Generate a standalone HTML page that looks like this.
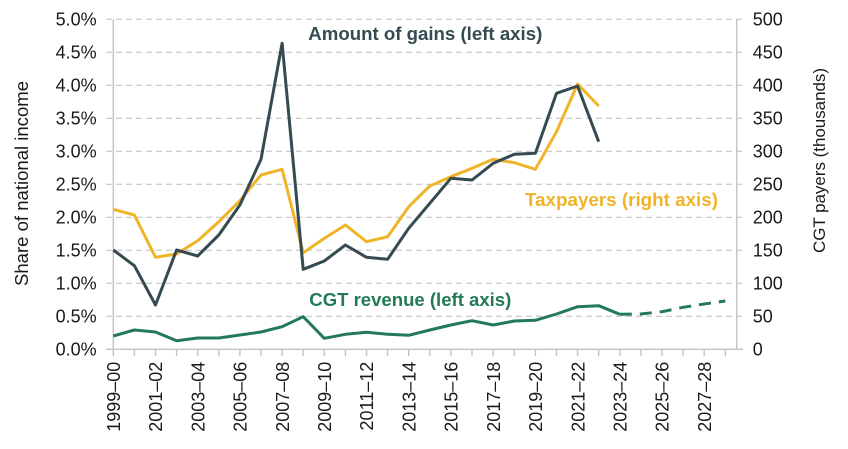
<!DOCTYPE html>
<html>
<head>
<meta charset="utf-8">
<style>
  html, body { margin:0; padding:0; background:#ffffff; }
  body { width:848px; height:449px; overflow:hidden; }
  svg { display:block; }
  text { font-family: "Liberation Sans", Arial, sans-serif; fill:#1a1a1a; }
</style>
</head>
<body>
<svg width="848" height="449" viewBox="0 0 848 449" xmlns="http://www.w3.org/2000/svg">
  <!-- gridlines -->
  <g stroke="#c6c6c6" stroke-width="1.2" stroke-dasharray="6 4" fill="none">
    <line x1="106" y1="19.3" x2="743" y2="19.3"/>
    <line x1="106" y1="52.3" x2="743" y2="52.3"/>
    <line x1="106" y1="85.3" x2="743" y2="85.3"/>
    <line x1="106" y1="118.3" x2="743" y2="118.3"/>
    <line x1="106" y1="151.3" x2="743" y2="151.3"/>
    <line x1="106" y1="184.3" x2="743" y2="184.3"/>
    <line x1="106" y1="217.3" x2="743" y2="217.3"/>
    <line x1="106" y1="250.3" x2="743" y2="250.3"/>
    <line x1="106" y1="283.3" x2="743" y2="283.3"/>
    <line x1="106" y1="316.3" x2="743" y2="316.3"/>
  </g>
  <!-- axes -->
  <g stroke="#c4c4c4" stroke-width="1.4" fill="none">
    <line x1="113.3" y1="19.3" x2="113.3" y2="349.3"/>
    <line x1="736.7" y1="19.3" x2="736.7" y2="349.3"/>
    <line x1="106" y1="349.3" x2="743" y2="349.3"/>
    <line x1="113.3" y1="349.3" x2="113.3" y2="356"/>
    <line x1="134.4" y1="349.3" x2="134.4" y2="356"/>
    <line x1="155.5" y1="349.3" x2="155.5" y2="356"/>
    <line x1="176.6" y1="349.3" x2="176.6" y2="356"/>
    <line x1="197.7" y1="349.3" x2="197.7" y2="356"/>
    <line x1="218.8" y1="349.3" x2="218.8" y2="356"/>
    <line x1="239.9" y1="349.3" x2="239.9" y2="356"/>
    <line x1="261.0" y1="349.3" x2="261.0" y2="356"/>
    <line x1="282.1" y1="349.3" x2="282.1" y2="356"/>
    <line x1="303.2" y1="349.3" x2="303.2" y2="356"/>
    <line x1="324.3" y1="349.3" x2="324.3" y2="356"/>
    <line x1="345.4" y1="349.3" x2="345.4" y2="356"/>
    <line x1="366.5" y1="349.3" x2="366.5" y2="356"/>
    <line x1="387.6" y1="349.3" x2="387.6" y2="356"/>
    <line x1="408.7" y1="349.3" x2="408.7" y2="356"/>
    <line x1="429.8" y1="349.3" x2="429.8" y2="356"/>
    <line x1="450.9" y1="349.3" x2="450.9" y2="356"/>
    <line x1="472.0" y1="349.3" x2="472.0" y2="356"/>
    <line x1="493.2" y1="349.3" x2="493.2" y2="356"/>
    <line x1="514.3" y1="349.3" x2="514.3" y2="356"/>
    <line x1="535.4" y1="349.3" x2="535.4" y2="356"/>
    <line x1="556.5" y1="349.3" x2="556.5" y2="356"/>
    <line x1="577.6" y1="349.3" x2="577.6" y2="356"/>
    <line x1="598.7" y1="349.3" x2="598.7" y2="356"/>
    <line x1="619.8" y1="349.3" x2="619.8" y2="356"/>
    <line x1="640.9" y1="349.3" x2="640.9" y2="356"/>
    <line x1="662.0" y1="349.3" x2="662.0" y2="356"/>
    <line x1="683.1" y1="349.3" x2="683.1" y2="356"/>
    <line x1="704.2" y1="349.3" x2="704.2" y2="356"/>
    <line x1="725.3" y1="349.3" x2="725.3" y2="356"/>
  </g>

  <!-- CGT revenue (green) -->
  <polyline fill="none" stroke="#237a57" stroke-width="3" stroke-linejoin="round"
    points="113.3,336 134.4,330 155.5,332 176.6,340.7 197.7,338 218.8,338 239.9,335 261.0,332 282.1,326.7 303.2,316.7 324.3,338.3 345.4,334.3 366.5,332.3 387.6,334.3 408.7,335.3 429.8,330 450.9,325 472.0,320.7 493.2,325 514.3,321 535.4,320.3 556.5,314 577.6,306.7 598.7,305.7 619.8,314.3"/>
  <polyline fill="none" stroke="#237a57" stroke-width="3" stroke-dasharray="12 8"
    points="619.8,314.3 640.9,314 662.0,311.7 683.1,307.3 704.2,304 725.3,301"/>

  <!-- Taxpayers (yellow) -->
  <polyline fill="none" stroke="#f0b429" stroke-width="3" stroke-linejoin="round"
    points="113.3,209.3 134.4,215 155.5,257.3 176.6,254 197.7,240.7 218.8,221.7 239.9,200.7 261.0,175 282.1,169.3 303.2,252.7 324.3,238.4 345.4,225 366.5,241.7 387.6,236.7 408.7,206.7 429.8,186 450.9,176.7 472.0,168.3 493.2,159.3 514.3,162.7 535.4,169.3 556.5,131.7 577.6,84 598.7,106"/>

  <!-- Amount of gains (dark) -->
  <polyline fill="none" stroke="#364b51" stroke-width="3" stroke-linejoin="round"
    points="113.3,250 134.4,265.7 155.5,305 176.6,250 197.7,256 218.8,235 239.9,205 261.0,159.3 282.1,43.3 303.2,269.3 324.3,261 345.4,245 366.5,257.3 387.6,259.3 408.7,228.3 429.8,203.3 450.9,178.3 472.0,180 493.2,163.3 514.3,154.3 535.4,153.3 556.5,93.3 577.6,86 598.7,141.7"/>

  <!-- series labels -->
  <text x="308.3" y="40" font-size="18.5" font-weight="bold" style="fill:#364b51" textLength="234" lengthAdjust="spacingAndGlyphs">Amount of gains (left axis)</text>
  <text x="525" y="206" font-size="18.5" font-weight="bold" style="fill:#f0b429" textLength="193" lengthAdjust="spacingAndGlyphs">Taxpayers (right axis)</text>
  <text x="309.3" y="306" font-size="18.5" font-weight="bold" style="fill:#237a57" textLength="202" lengthAdjust="spacingAndGlyphs">CGT revenue (left axis)</text>

  <!-- left tick labels -->
  <g font-size="18" text-anchor="end">
    <text x="96.7" y="25.7">5.0%</text>
    <text x="96.7" y="58.7">4.5%</text>
    <text x="96.7" y="91.7">4.0%</text>
    <text x="96.7" y="124.7">3.5%</text>
    <text x="96.7" y="157.7">3.0%</text>
    <text x="96.7" y="190.7">2.5%</text>
    <text x="96.7" y="223.7">2.0%</text>
    <text x="96.7" y="256.7">1.5%</text>
    <text x="96.7" y="289.7">1.0%</text>
    <text x="96.7" y="322.7">0.5%</text>
    <text x="96.7" y="355.7">0.0%</text>
  </g>

  <!-- right tick labels -->
  <g font-size="18" text-anchor="start">
    <text x="752.7" y="25.7">500</text>
    <text x="752.7" y="58.7">450</text>
    <text x="752.7" y="91.7">400</text>
    <text x="752.7" y="124.7">350</text>
    <text x="752.7" y="157.7">300</text>
    <text x="752.7" y="190.7">250</text>
    <text x="752.7" y="223.7">200</text>
    <text x="752.7" y="256.7">150</text>
    <text x="752.7" y="289.7">100</text>
    <text x="752.7" y="322.7">50</text>
    <text x="752.7" y="355.7">0</text>
  </g>

  <!-- x labels -->
  <g font-size="18" text-anchor="end">
    <text transform="translate(120,361.7) rotate(-90)">1999–00</text>
    <text transform="translate(162.2,361.7) rotate(-90)">2001–02</text>
    <text transform="translate(204.4,361.7) rotate(-90)">2003–04</text>
    <text transform="translate(246.6,361.7) rotate(-90)">2005–06</text>
    <text transform="translate(288.8,361.7) rotate(-90)">2007–08</text>
    <text transform="translate(331,361.7) rotate(-90)">2009–10</text>
    <text transform="translate(373.2,361.7) rotate(-90)">2011–12</text>
    <text transform="translate(415.4,361.7) rotate(-90)">2013–14</text>
    <text transform="translate(457.6,361.7) rotate(-90)">2015–16</text>
    <text transform="translate(499.9,361.7) rotate(-90)">2017–18</text>
    <text transform="translate(542.1,361.7) rotate(-90)">2019–20</text>
    <text transform="translate(584.3,361.7) rotate(-90)">2021–22</text>
    <text transform="translate(626.5,361.7) rotate(-90)">2023–24</text>
    <text transform="translate(668.7,361.7) rotate(-90)">2025–26</text>
    <text transform="translate(710.9,361.7) rotate(-90)">2027–28</text>
  </g>

  <!-- axis titles -->
  <text transform="translate(28,183.5) rotate(-90)" font-size="18" text-anchor="middle" textLength="205" lengthAdjust="spacingAndGlyphs">Share of national income</text>
  <text transform="translate(825,160.5) rotate(-90)" font-size="17" text-anchor="middle" textLength="185" lengthAdjust="spacingAndGlyphs">CGT payers (thousands)</text>
</svg>
</body>
</html>
